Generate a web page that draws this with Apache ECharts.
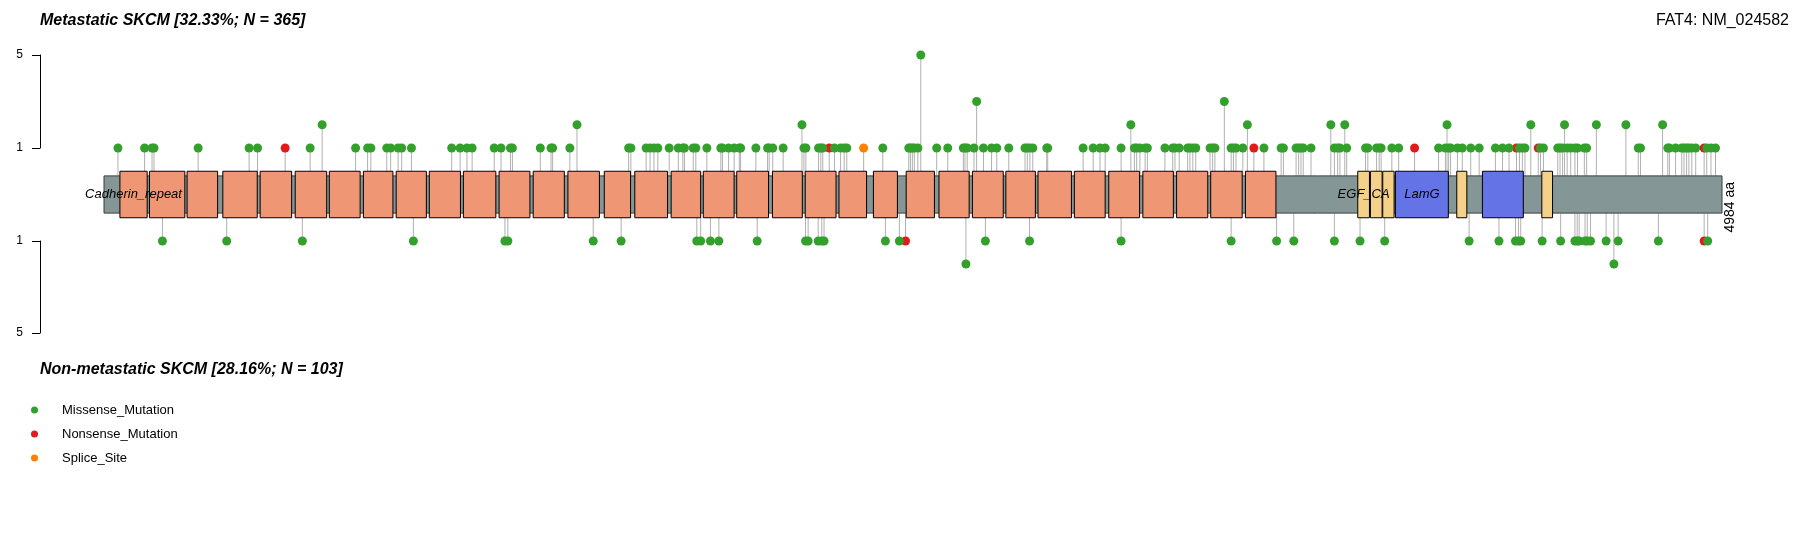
<!DOCTYPE html>
<html><head><meta charset="utf-8">
<script src="https://cdn.jsdelivr.net/npm/echarts@6/dist/echarts.min.js"></script>
<style>html,body{margin:0;padding:0;background:#fff}#c{width:1806px;height:545px}</style>
</head><body><div id="c"></div>
<script>
const proteinLength = 4984;
const geneLabel = 'FAT4: NM_024582';
const topTitle = 'Metastatic SKCM [32.33%; N = 365]';
const bottomTitle = 'Non-metastatic SKCM [28.16%; N = 103]';
const yTicks = [1, 5];
const mutationClasses = ['Missense_Mutation', 'Nonsense_Mutation', 'Splice_Site'];

// domains [start, end] in aa
const cadherinRepeat = [[49,133],[140,249],[256,350],[366,472],[481,578],[589,686],[694,789],[799,890],[900,993],[1002,1098],[1107,1207],[1217,1312],[1322,1418],[1429,1526],[1541,1622],[1635,1736],[1747,1838],[1846,1941],[1949,2047],[2059,2151],[2160,2255],[2264,2349],[2370,2444],[2471,2558],[2572,2665],[2675,2770],[2778,2869],[2877,2980],[2989,3084],[3095,3190],[3200,3294],[3304,3400],[3409,3506],[3516,3610]];
const egfCA = [[3862,3898],[3901,3937],[3939,3974],[4167,4198],[4429,4462]];
const lamG = [[3978,4141],[4246,4372]];

// mutations [position aa, count]
const metMissense = [[43,1],[125,1],[148,1],[154,1],[290,1],[447,1],[473,1],[635,1],[672,2],[775,1],[812,1],[822,1],[871,1],[883,1],[906,1],[917,1],[947,1],[1071,1],[1097,1],[1118,1],[1134,1],[1202,1],[1223,1],[1252,1],[1258,1],[1344,1],[1377,1],[1382,1],[1435,1],[1457,2],[1616,1],[1623,1],[1670,1],[1682,1],[1694,1],[1706,1],[1741,1],[1769,1],[1783,1],[1788,1],[1815,1],[1823,1],[1857,1],[1900,1],[1905,1],[1924,1],[1941,1],[1957,1],[1961,1],[2008,1],[2044,1],[2049,1],[2060,1],[2092,1],[2150,2],[2156,1],[2162,1],[2201,1],[2208,1],[2214,1],[2250,1],[2269,1],[2280,1],[2288,1],[2399,1],[2479,1],[2484,1],[2490,1],[2496,1],[2507,1],[2516,5],[2565,1],[2599,1],[2647,1],[2652,1],[2659,1],[2680,1],[2688,3],[2709,1],[2734,1],[2750,1],[2787,1],[2837,1],[2844,1],[2852,1],[2861,1],[2904,1],[2907,1],[3016,1],[3047,1],[3068,1],[3084,1],[3133,1],[3163,2],[3174,1],[3181,1],[3191,1],[3207,1],[3214,1],[3268,1],[3292,1],[3299,1],[3312,1],[3338,1],[3345,1],[3354,1],[3363,1],[3407,1],[3415,1],[3422,1],[3451,3],[3472,1],[3479,1],[3487,1],[3508,1],[3522,2],[3573,1],[3626,1],[3633,1],[3672,1],[3680,1],[3687,1],[3694,1],[3718,1],[3779,2],[3790,1],[3800,1],[3807,1],[3822,2],[3828,1],[3886,1],[3893,1],[3920,1],[3928,1],[3934,1],[3967,1],[3988,1],[4111,1],[4132,1],[4137,2],[4142,1],[4148,1],[4169,1],[4184,1],[4210,1],[4236,1],[4286,1],[4308,1],[4328,1],[4360,1],[4369,1],[4377,1],[4395,2],[4425,1],[4434,1],[4478,1],[4485,1],[4493,1],[4499,2],[4507,1],[4518,1],[4531,1],[4539,1],[4560,1],[4567,1],[4597,2],[4688,2],[4726,1],[4733,1],[4801,2],[4817,1],[4822,1],[4841,1],[4860,1],[4867,1],[4875,1],[4882,1],[4891,1],[4903,1],[4937,1],[4950,1],[4964,1]];
const metNonsense = [[558,1],[2234,1],[3542,1],[4037,1],[4351,1],[4418,1],[4929,1]];
const metSplice = [[2340,1]];

const nonMissense = [[180,1],[378,1],[611,1],[953,1],[1235,1],[1244,1],[1507,1],[1593,1],[1826,1],[1838,1],[1868,1],[1894,1],[2012,1],[2161,1],[2169,1],[2200,1],[2211,1],[2218,1],[2407,1],[2450,1],[2655,2],[2715,1],[2851,1],[3133,1],[3472,1],[3612,1],[3665,1],[3790,1],[3869,1],[3945,1],[4205,1],[4297,1],[4348,1],[4357,1],[4364,1],[4430,1],[4487,1],[4531,1],[4538,1],[4544,1],[4562,1],[4569,1],[4579,1],[4627,1],[4651,2],[4664,1],[4788,1],[4940,1]];
const nonNonsense = [[2469,1],[4929,1]];
const nonSplice = [];

const FONT = '"Liberation Sans", Arial, Helvetica, sans-serif';
const classColors = ['#33A02C', '#E31A1C', '#FF7F00'];
const domainTypes = [
  {name: 'Cadherin_repeat', ranges: cadherinRepeat, color: '#EF9674'},
  {name: 'EGF_CA', ranges: egfCA, color: '#F5D088'},
  {name: 'LamG', ranges: lamG, color: '#6473E6'}
];
const domainData = [];
const labelData = [];
domainTypes.forEach((d, ti) => {
  d.ranges.forEach(r => domainData.push([r[0], r[1], ti]));
  labelData.push([(d.ranges[0][0] + d.ranges[0][1]) / 2, ti]);
});

const BB_TOP = -0.2, BB_BOT = -1.8, DOM_TOP = 0, DOM_BOT = -2;

function stemSeries(data, gi) {
  return {
    type: 'custom', xAxisIndex: gi, yAxisIndex: gi, z: 1, silent: true,
    data: data,
    renderItem: function (params, api) {
      const a = api.coord([api.value(0), BB_TOP]);
      const b = api.coord([api.value(0), api.value(1)]);
      return {type: 'line', shape: {x1: a[0], y1: a[1], x2: b[0], y2: b[1]},
        style: {stroke: '#b0b0b0', lineWidth: 1}};
    }
  };
}
function pointSeries(name, data, gi, color) {
  return {
    name: name, type: 'scatter', xAxisIndex: gi, yAxisIndex: gi, z: 5,
    symbol: 'circle', symbolSize: 9, data: data,
    itemStyle: {color: color, opacity: 1}, silent: true
  };
}

const topAll = metMissense.concat(metNonsense, metSplice);
const botAll = nonMissense.concat(nonNonsense, nonSplice);

const yAxisBase = {
  type: 'value', min: 1, max: 5, position: 'left', offset: 64,
  axisLine: {show: true, onZero: false, lineStyle: {color: '#000', width: 1}},
  axisTick: {show: true, length: 8, customValues: yTicks, lineStyle: {color: '#000'}},
  axisLabel: {customValues: yTicks, margin: 17, fontSize: 12, color: '#000', fontFamily: FONT},
  splitLine: {show: false}
};

const option = {
  animation: false,
  backgroundColor: '#fff',
  title: [
    {text: topTitle, left: 40, top: 13, padding: 0,
      textStyle: {fontFamily: FONT, fontSize: 16, fontWeight: 'bold', fontStyle: 'italic', color: '#000'}},
    {text: geneLabel, right: 17, top: 13, padding: 0,
      textStyle: {fontFamily: FONT, fontSize: 16, fontWeight: 'normal', color: '#000'}},
    {text: bottomTitle, left: 40, top: 362, padding: 0,
      textStyle: {fontFamily: FONT, fontSize: 16, fontWeight: 'bold', fontStyle: 'italic', color: '#000'}}
  ],
  legend: {
    data: mutationClasses, orient: 'vertical', left: 31, top: 402, padding: 0,
    icon: 'circle', itemWidth: 25, itemHeight: 7, itemGap: 8, selectedMode: false,
    textStyle: {fontFamily: FONT, fontSize: 13, color: '#000', lineHeight: 16, padding: [0, 0, 0, 10]}
  },
  grid: [
    {left: 104, width: 1618, top: 55, height: 93},
    {left: 104, width: 1618, top: 241, height: 92}
  ],
  xAxis: [
    {gridIndex: 0, type: 'value', min: 0, max: proteinLength, show: false},
    {gridIndex: 1, type: 'value', min: 0, max: proteinLength, show: false}
  ],
  yAxis: [
    Object.assign({gridIndex: 0}, yAxisBase),
    Object.assign({gridIndex: 1, inverse: true}, yAxisBase)
  ],
  series: [
    stemSeries(topAll, 0),
    stemSeries(botAll, 1),
    {
      type: 'custom', xAxisIndex: 0, yAxisIndex: 0, z: 2, silent: true,
      data: [[0, proteinLength]],
      renderItem: function (params, api) {
        const a = api.coord([api.value(0), BB_TOP]);
        const b = api.coord([api.value(1), BB_BOT]);
        const m = api.coord([api.value(1), -1.55]);
        return {type: 'group', children: [
          {type: 'rect', shape: {x: a[0], y: a[1], width: b[0] - a[0], height: b[1] - a[1]},
            style: {fill: '#849695', stroke: '#3c3c3c', lineWidth: 1}},
          {type: 'text', x: m[0] + 1, y: m[1], rotation: Math.PI / 2,
            style: {text: api.value(1) + ' aa', fontFamily: FONT, fontSize: 14, fill: '#000',
              align: 'center', verticalAlign: 'top'}}
        ]};
      }
    },
    {
      type: 'custom', xAxisIndex: 0, yAxisIndex: 0, z: 3, silent: true,
      data: domainData,
      renderItem: function (params, api) {
        const a = api.coord([api.value(0), DOM_TOP]);
        const b = api.coord([api.value(1), DOM_BOT]);
        return {type: 'rect', shape: {x: a[0], y: a[1], width: b[0] - a[0], height: b[1] - a[1]},
          style: {fill: domainTypes[api.value(2)].color, stroke: '#000', lineWidth: 1}};
      }
    },
    {
      type: 'custom', xAxisIndex: 0, yAxisIndex: 0, z: 4, silent: true,
      data: labelData,
      renderItem: function (params, api) {
        const c = api.coord([api.value(0), (DOM_TOP + DOM_BOT) / 2]);
        return {type: 'text', x: c[0], y: c[1],
          style: {text: domainTypes[api.value(1)].name, fontFamily: FONT, fontSize: 13,
            fontStyle: 'italic', fill: '#000', align: 'center', verticalAlign: 'middle'}};
      }
    },
    pointSeries(mutationClasses[1], metNonsense, 0, classColors[1]),
    pointSeries(mutationClasses[2], metSplice, 0, classColors[2]),
    pointSeries(mutationClasses[0], metMissense, 0, classColors[0]),
    pointSeries(mutationClasses[1], nonNonsense, 1, classColors[1]),
    pointSeries(mutationClasses[2], nonSplice, 1, classColors[2]),
    pointSeries(mutationClasses[0], nonMissense, 1, classColors[0])
  ]
};
const chart = echarts.init(document.getElementById('c'));
chart.setOption(option);
</script>
</body></html>
